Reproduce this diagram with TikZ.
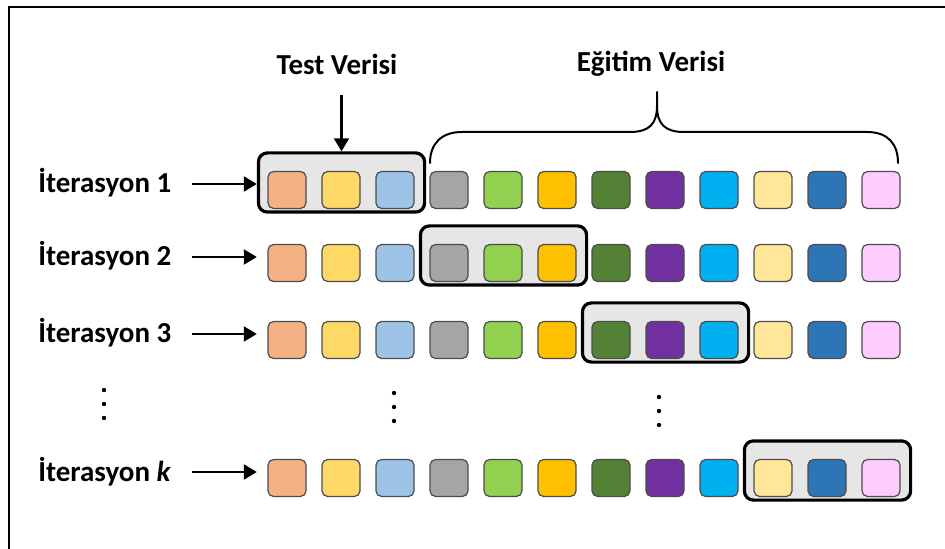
\documentclass[tikz,border=0pt]{standalone}
\usepackage{fontspec}
\setmainfont{Carlito}
\usepackage{tikz}
\usetikzlibrary{calc,arrows.meta,positioning,fit,backgrounds}
\definecolor{peach}{HTML}{F4B183}
\definecolor{sand}{HTML}{FFD966}
\definecolor{sky}{HTML}{9DC3E6}
\definecolor{stone}{HTML}{A5A5A5}
\definecolor{lime}{HTML}{92D050}
\definecolor{amber}{HTML}{FFC000}
\definecolor{moss}{HTML}{538135}
\definecolor{plum}{HTML}{7030A0}
\definecolor{aqua}{HTML}{00B0F0}
\definecolor{cream}{HTML}{FFE699}
\definecolor{navy}{HTML}{2E75B6}
\definecolor{rose}{HTML}{FFCCFF}
\definecolor{foldbg}{HTML}{E6E6E6}
\tikzset{
  frame/.style={draw=black, line width=1.2pt, line join=miter},
  cell/.style={draw=black!70, line width=0.6pt, rounded corners=2.8pt, minimum width=19pt, minimum height=18.5pt, inner sep=0pt},
  fold/.style={draw=black, fill=foldbg, line width=1.6pt, rounded corners=4.5pt, inner sep=0pt},
  arr/.style={draw=black, line width=1.1pt, -{Triangle[length=6.5pt, width=7.5pt]}},
  brace/.style={draw=black, line width=1pt, line cap=round},
  lab/.style={font=\fontsize{14.5}{17}\selectfont\bfseries, anchor=base west, inner sep=0pt},
  title/.style={font=\fontsize{14.5}{17}\selectfont\bfseries, anchor=base, inner sep=0pt},
}
\begin{document}
\begin{tikzpicture}[x=0.5pt,y=-0.5pt]
\useasboundingbox (0,0) rectangle (945,549);
\draw[frame] (9,549) -- (9,7) -- (945,7);

% one row of cells per iteration
\foreach \r/\y in {1/190,2/263,3/340,4/478}{
  \foreach \c/\col in {1/peach,2/sand,3/sky,4/stone,5/lime,6/amber,7/moss,8/plum,9/aqua,10/cream,11/navy,12/rose}{
    \node[cell, fill=\col] (r\r-\c) at ({287+54*(\c-1)},\y) {};
  }
}

% test folds
\begin{scope}[on background layer]
\foreach \r in {1,...,4}{
  \pgfmathtruncatemacro{\a}{3*\r-2}
  \pgfmathtruncatemacro{\b}{3*\r}
  \node[fold, fit={($(r\r-\a.south west)+(-9,3)$) ($(r\r-\b.north east)+(10,-18)$)}] (fold\r) {};
}
\end{scope}

\foreach \r/\t in {1/1,2/2,3/3,4/\textit{k}}{
  \node[lab] (it\r) at ($(38,0 |- r\r-1)+(0,3)$) {İterasyon \t};
  \coordinate (tail\r) at ($(it\r.base east)+(20,-9)$);
  \draw[arr] (tail\r) -- (tail\r -| fold1.west);
}

\node[title] (test) at (337,75) {Test Verisi};
\node[title] (train) at (651,72) {Eğitim Verisi};

\coordinate (ttail) at ($(fold1.north)+(0,-56)$);
\draw[arr] (ttail) -- (fold1.north);

% brace over the training cells
\coordinate (bl) at (430,163);
\coordinate (br) at (898,163);
\coordinate (tip) at (657,92);
\draw[brace] (bl) .. controls (430,144) and (441,132) .. (462,132) -- (630,132)
  .. controls (649,132) and (657,124) .. (657,106) -- (tip);
\draw[brace] (657,106) .. controls (657,124) and (665,132) .. (684,132) -- (867,132)
  .. controls (888,132) and (898,144) .. (br);

% vertical dots
\foreach \x/\y in {104/390,394/393,659/397}{
  \foreach \k in {0,1,2}
    \fill (\x,\y+14*\k) circle (1.1pt);
}
\end{tikzpicture}
\end{document}
